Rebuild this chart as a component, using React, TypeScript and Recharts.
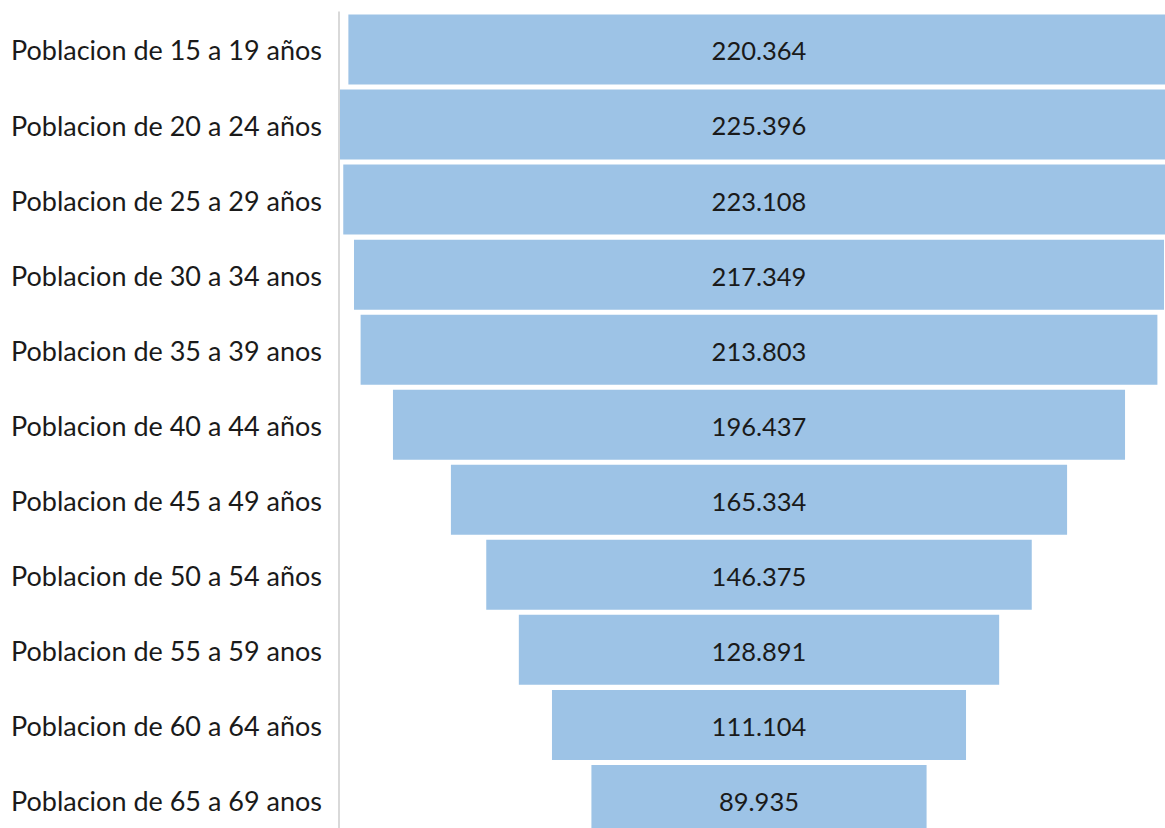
import { BarChart, Bar, XAxis, YAxis, LabelList } from "recharts";

const groups = [
  "Poblacion de 15 a 19 años",
  "Poblacion de 20 a 24 años",
  "Poblacion de 25 a 29 años",
  "Poblacion de 30 a 34 anos",
  "Poblacion de 35 a 39 anos",
  "Poblacion de 40 a 44 años",
  "Poblacion de 45 a 49 años",
  "Poblacion de 50 a 54 años",
  "Poblacion de 55 a 59 anos",
  "Poblacion de 60 a 64 años",
  "Poblacion de 65 a 69 anos",
];

const poblacion = [
  220.364, 225.396, 223.108, 217.349, 213.803, 196.437, 165.334, 146.375, 128.891, 111.104, 89.935,
];

const MAX = Math.max(...poblacion);

// funnel: invisible spacer on the left so every bar sits on the same centre line
const rows = groups.map((g, i) => ({
  grupo: g,
  spacer: (MAX - poblacion[i]) / 2,
  valor: poblacion[i],
}));

const FONT = "Lato, 'Open Sans', sans-serif";

function fmt(v: number): string {
  return v.toFixed(3);
}

function GroupTick(props: any) {
  const { y, payload } = props;
  return (
    <text x={11} y={y + 2} dy="0.35em" textAnchor="start" fill="#1a1a1a" fontSize={27} fontFamily={FONT}>
      {payload.value}
    </text>
  );
}

function ValueLabel(props: any) {
  const { x, y, width, height, value } = props;
  return (
    <text
      x={x + width / 2}
      y={y + height / 2 + 2}
      dy="0.35em"
      textAnchor="middle"
      fill="#1a1a1a"
      fontSize={25.5}
      fontFamily={FONT}
    >
      {fmt(Number(value))}
    </text>
  );
}

export default function App() {
  return (
    <div
      style={{
        position: "fixed",
        left: 0,
        top: 0,
        width: 1165,
        height: 828,
        overflow: "hidden",
        background: "#fff",
      }}
    >
      <BarChart
        width={1179}
        height={837}
        data={rows}
        layout="vertical"
        margin={{ top: 11.5, right: 0, bottom: 0, left: 0 }}
      >
        <XAxis type="number" domain={[0, MAX]} hide />
        <YAxis
          type="category"
          dataKey="grupo"
          width={339}
          tick={<GroupTick />}
          tickLine={false}
          axisLine={{ stroke: "#d9d9d9", strokeWidth: 2 }}
          interval={0}
        />
        <Bar dataKey="spacer" stackId="f" fill="transparent" barSize={70} isAnimationActive={false} />
        <Bar dataKey="valor" stackId="f" fill="#9dc3e6" barSize={70} isAnimationActive={false}>
          <LabelList dataKey="valor" content={<ValueLabel />} />
        </Bar>
      </BarChart>
    </div>
  );
}
